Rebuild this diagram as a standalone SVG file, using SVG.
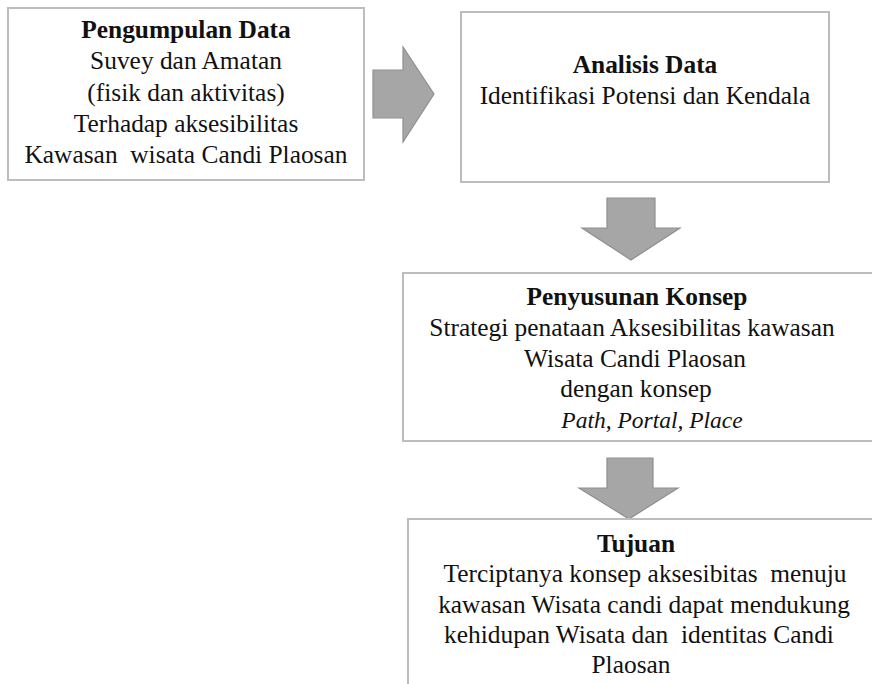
<svg xmlns="http://www.w3.org/2000/svg" width="872" height="684" viewBox="0 0 872 684">
<style>
.box{fill:#fff;stroke:#bdbdbd;stroke-width:2}
.arr{fill:#a6a6a6;stroke:#8f8f8f;stroke-width:1.2}
text{font-family:'Liberation Serif','Times New Roman',serif;font-size:25.4px;fill:#111;text-anchor:middle;white-space:pre}
.b{font-weight:bold}
.i{font-style:italic;font-size:23.5px}
</style>
<rect width="872" height="684" fill="#fff"/>
<g id="connectors">
<polygon class="arr" points="373,70 403,70 403,47 434,94 403,142 403,118 373,118"/>
<polygon class="arr" points="607,198 655,198 655,228 680,228 631,260 582,228 607,228"/>
<polygon class="arr" points="607,458 653,458 653,488 678,488 629,519 579,488 607,488"/>
</g>
<g id="pengumpulan">
<rect class="box" x="8" y="8" width="356" height="172"/>
<text x="186" y="38" class="b">Pengumpulan Data</text>
<text x="186" y="69">Suvey dan Amatan</text>
<text x="186" y="101">(fisik dan aktivitas)</text>
<text x="186" y="132">Terhadap aksesibilitas</text>
<text x="186" y="163" xml:space="preserve">Kawasan  wisata Candi Plaosan</text>
</g>
<g id="analisis">
<rect class="box" x="461" y="12" width="368" height="170"/>
<text x="645" y="73" class="b">Analisis Data</text>
<text x="645" y="104">Identifikasi Potensi dan Kendala</text>
</g>
<g id="penyusunan">
<rect class="box" x="403" y="273" width="480" height="168"/>
<text x="637" y="305" class="b">Penyusunan Konsep</text>
<text x="632" y="336">Strategi penataan Aksesibilitas kawasan</text>
<text x="635" y="367">Wisata Candi Plaosan</text>
<text x="636" y="397">dengan konsep</text>
<text x="652" y="428" class="i">Path, Portal, Place</text>
</g>
<g id="tujuan">
<rect class="box" x="408" y="519" width="480" height="180"/>
<text x="636" y="552" class="b">Tujuan</text>
<text x="645" y="582" xml:space="preserve">Terciptanya konsep aksesibitas  menuju</text>
<text x="644" y="613">kawasan Wisata candi dapat mendukung</text>
<text x="639" y="643" xml:space="preserve">kehidupan Wisata dan  identitas Candi</text>
<text x="631" y="673">Plaosan</text>
</g>
</svg>
